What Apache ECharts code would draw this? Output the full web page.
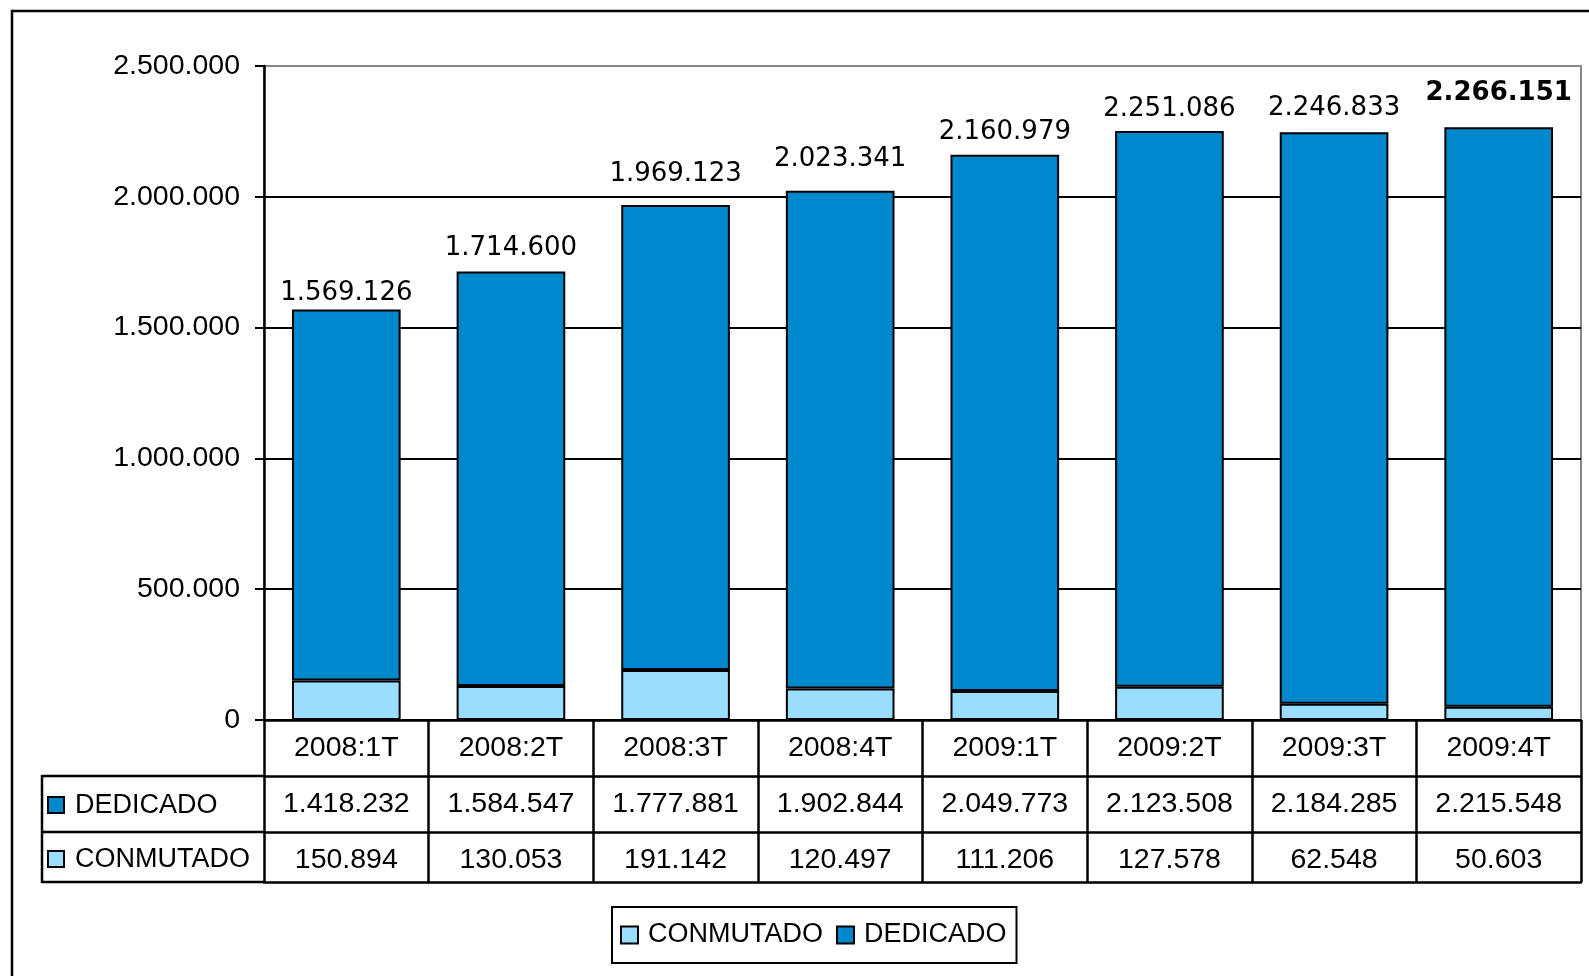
<!DOCTYPE html>
<html>
<head>
<meta charset="utf-8">
<script src="https://cdn.jsdelivr.net/npm/echarts@6/dist/echarts.min.js"></script>
<style>
html,body{margin:0;padding:0;background:#fff;}
#chart{width:1589px;height:976px;}
</style>
</head>
<body>
<div id="chart"></div>
<script>
// ---- data ----
const categories = ['2008:1T','2008:2T','2008:3T','2008:4T','2009:1T','2009:2T','2009:3T','2009:4T'];
const dedicado   = [1418232,1584547,1777881,1902844,2049773,2123508,2184285,2215548];
const conmutado  = [150894,130053,191142,120497,111206,127578,62548,50603];
// totals as printed above the bars in the source
const totals     = [1569126,1714600,1969123,2023341,2160979,2251086,2246833,2266151];
const seriesNames = ['CONMUTADO','DEDICADO'];
const yMax = 2500000;
const yStep = 500000;

// ---- style ----
const labelGap = [3, 10, 18, 18, 9, 9, 11, 21];
const boldIndex = 7;
const colDedicado = '#0088CC';
const colConmutado = '#99DDFF';
const sans = 'Liberation Sans, Arial, sans-serif';
const lblFont = 'DejaVu Sans, Verdana, sans-serif';
const fs = 28.5;

const fmt = n => String(n).replace(/\B(?=(\d{3})+(?!\d))/g, '.');

const chart = echarts.init(document.getElementById('chart'));

function tableAxis(offset, tickLen, formatter, showLabel) {
  return {
    type: 'category',
    data: categories,
    position: 'bottom',
    offset: offset,
    boundaryGap: true,
    axisLine: { show: true, lineStyle: { color: '#000', width: 2.5 } },
    axisTick: { show: tickLen > 0, length: tickLen, alignWithLabel: false, interval: 0,
                lineStyle: { color: '#000', width: 2.5 } },
    axisLabel: { show: showLabel, interval: 0, margin: 14, fontSize: fs, lineHeight: 28,
                 fontFamily: sans, color: '#000', formatter: formatter },
    splitLine: { show: false }
  };
}

const option = {
  animation: false,
  backgroundColor: '#fff',
  grid: { left: 264, right: 8, top: 66, bottom: 256, show: true,
          borderColor: '#888', borderWidth: 2 },
  legend: {
    data: seriesNames,
    left: 612, top: 907,
    orient: 'horizontal',
    padding: [12, 10, 12, 8],
    borderColor: '#000', borderWidth: 2,
    itemWidth: 17, itemHeight: 17, itemGap: 13,
    icon: 'rect',
    textStyle: { fontSize: 27, lineHeight: 32, fontFamily: sans, color: '#000', padding: [0, 0, 0, 5] }
  },
  xAxis: [
    tableAxis(0, 56, v => v, true),
    tableAxis(56, 56, (v, i) => fmt(dedicado[i]), true),
    tableAxis(112, 50, (v, i) => fmt(conmutado[i]), true),
    tableAxis(162, 0, v => '', false)
  ],
  yAxis: {
    type: 'value',
    min: 0, max: yMax, interval: yStep,
    axisLine: { show: true, lineStyle: { color: '#000', width: 2.5 } },
    axisTick: { show: true, length: 9, lineStyle: { color: '#000', width: 2 } },
    axisLabel: { fontSize: fs, fontFamily: sans, color: '#000', margin: 24, formatter: v => fmt(v) },
    splitLine: { show: true, lineStyle: { color: ['#000','#000','#000','#000','#000','#888'], width: 2 } }
  },
  series: [
    {
      name: 'CONMUTADO', type: 'bar', stack: 'total', barWidth: '66%',
      data: conmutado,
      itemStyle: { color: colConmutado, borderColor: '#000', borderWidth: 2 }
    },
    {
      name: 'DEDICADO', type: 'bar', stack: 'total', barWidth: '66%',
      data: dedicado.map((v, i) => ({
        value: v,
        label: { distance: labelGap[i], fontWeight: i === boldIndex ? 'bold' : 'normal',
                 fontSize: 26 }
      })),
      itemStyle: { color: colDedicado, borderColor: '#000', borderWidth: 2 },
      label: {
        show: true, position: 'top', color: '#000', fontFamily: lblFont, fontSize: 26,
        formatter: p => fmt(totals[p.dataIndex])
      }
    }
  ],
  graphic: [
    { type: 'rect', z: -10, shape: { x: 12, y: 11, width: 1700, height: 1100 },
      style: { fill: 'none', stroke: '#000', lineWidth: 2.5 } },
    { type: 'line', shape: { x1: 42, y1: 776, x2: 264, y2: 776 }, style: { stroke: '#000', lineWidth: 2.5 } },
    { type: 'line', shape: { x1: 42, y1: 832, x2: 264, y2: 832 }, style: { stroke: '#000', lineWidth: 2.5 } },
    { type: 'line', shape: { x1: 42, y1: 882, x2: 264, y2: 882 }, style: { stroke: '#000', lineWidth: 2.5 } },
    { type: 'line', shape: { x1: 42, y1: 775, x2: 42, y2: 883 }, style: { stroke: '#000', lineWidth: 2.5 } },
    { type: 'rect', shape: { x: 48, y: 797, width: 16, height: 16 },
      style: { fill: colDedicado, stroke: '#000', lineWidth: 2 } },
    { type: 'text', x: 75, y: 806,
      style: { text: 'DEDICADO', fontSize: 27, fontFamily: sans, fill: '#000', verticalAlign: 'middle' } },
    { type: 'rect', shape: { x: 48, y: 851, width: 16, height: 16 },
      style: { fill: colConmutado, stroke: '#000', lineWidth: 2 } },
    { type: 'text', x: 75, y: 860,
      style: { text: 'CONMUTADO', fontSize: 27, fontFamily: sans, fill: '#000', verticalAlign: 'middle' } }
  ]
};

chart.setOption(option);
</script>
</body>
</html>
